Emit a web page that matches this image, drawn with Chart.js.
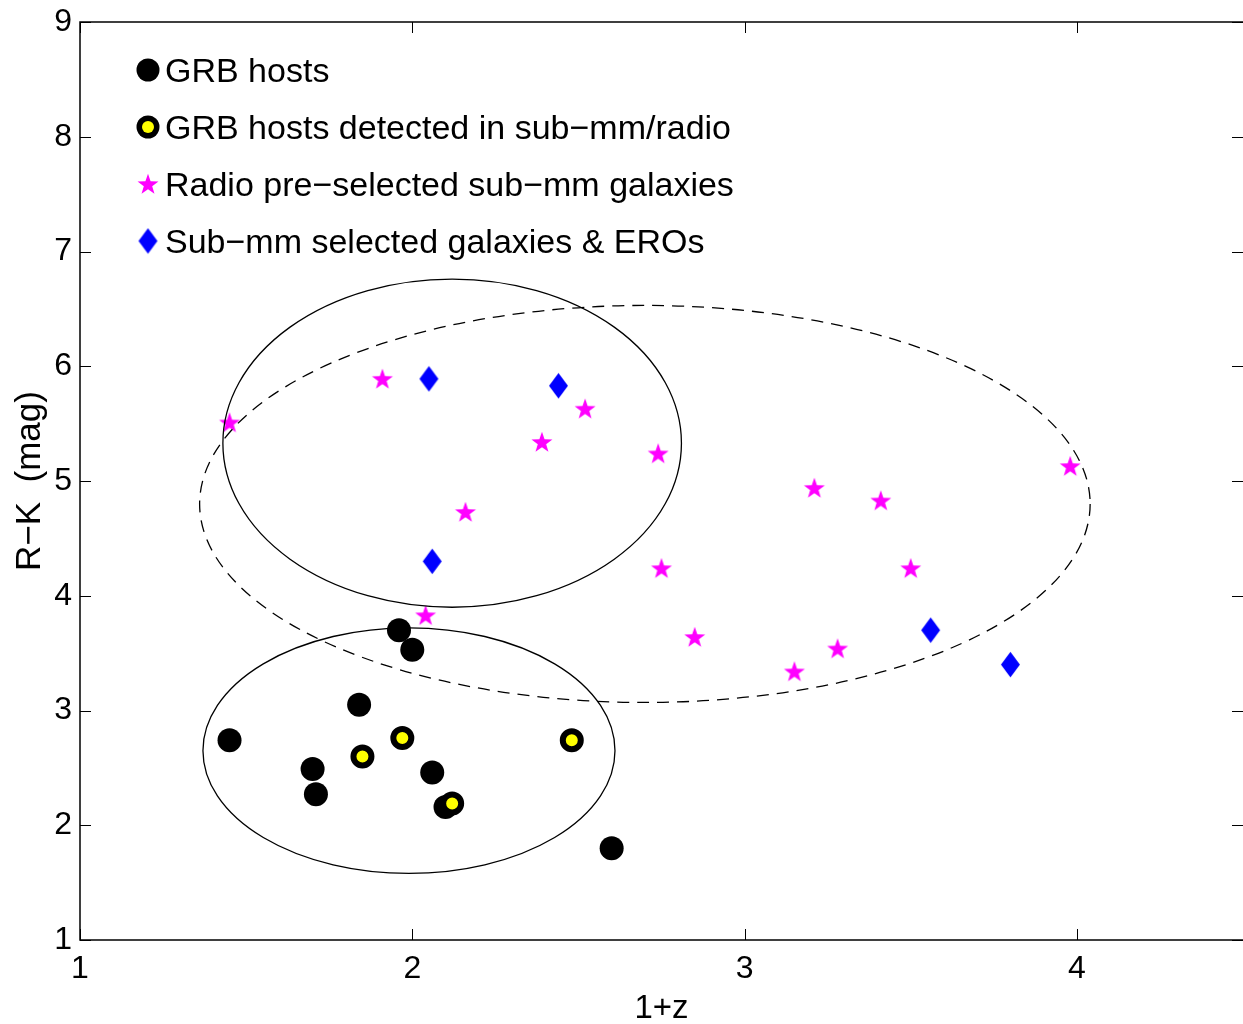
<!DOCTYPE html>
<html><head><meta charset="utf-8">
<script src="https://cdn.jsdelivr.net/npm/chart.js@4/dist/chart.umd.min.js"></script>
<style>html,body{margin:0;padding:0;background:#fff;overflow:hidden}#wrap{width:1243px;height:1024px;position:relative}canvas{display:block}</style>
</head><body><div id="wrap"><canvas id="c" width="1243" height="1024"></canvas></div>
<script>
const seriesNames = ['GRB hosts', 'GRB hosts detected in sub\u2212mm/radio', 'Radio pre\u2212selected sub\u2212mm galaxies', 'Sub\u2212mm selected galaxies & EROs'];
const grbX = [1.45, 1.70, 1.71, 1.84, 1.96, 2.00, 2.06, 2.10, 2.60];
const grbY = [2.74, 2.49, 2.27, 3.05, 3.70, 3.53, 2.46, 2.16, 1.80];
const detX = [1.85, 1.97, 2.12, 2.48];
const detY = [2.60, 2.76, 2.19, 2.74];
const radioX = [1.45, 1.91, 2.04, 2.16, 2.39, 2.52, 2.74, 2.75, 2.85, 3.15, 3.21, 3.28, 3.41, 3.50, 3.98];
const radioY = [5.51, 5.89, 3.83, 4.73, 5.34, 5.63, 5.24, 4.24, 3.64, 3.34, 4.94, 3.54, 4.83, 4.24, 5.13];
const smgX = [2.05, 2.06, 2.44, 3.56, 3.80];
const smgY = [5.89, 4.30, 5.83, 3.70, 3.40];
const xTicks = [1, 2, 3, 4];
const yTicks = [1, 2, 3, 4, 5, 6, 7, 8, 9];
const xTitle = '1+z';
const yTitle = 'R\u2212K  (mag)';
// ellipses: centre and semi-axes in data units
const ellCx = [2.12, 1.99, 2.70];
const ellCy = [5.33, 2.65, 4.80];
const ellRx = [0.69, 0.62, 1.34];
const ellRy = [1.43, 1.07, 1.73];
const ellDashed = [false, false, true];

const FONT = '"Liberation Sans", Arial, Helvetica, sans-serif';
const pts = (xs, ys) => xs.map((x, i) => ({x: x, y: ys[i]}));

function starPath(ctx, cx, cy, R, r) {
  ctx.beginPath();
  for (let i = 0; i < 10; i++) {
    const rad = i % 2 === 0 ? R : r;
    const a = -Math.PI / 2 + i * Math.PI / 5;
    const px = cx + rad * Math.cos(a), py = cy + rad * Math.sin(a);
    if (i === 0) ctx.moveTo(px, py); else ctx.lineTo(px, py);
  }
  ctx.closePath();
}
function diamondPath(ctx, cx, cy, w, h) {
  ctx.beginPath();
  ctx.moveTo(cx, cy - h / 2);
  ctx.lineTo(cx + w / 2, cy);
  ctx.lineTo(cx, cy + h / 2);
  ctx.lineTo(cx - w / 2, cy);
  ctx.closePath();
}
function makeStar() {
  const c = document.createElement('canvas'); c.width = 24; c.height = 24;
  const g = c.getContext('2d'); g.fillStyle = '#ff00ff';
  starPath(g, 12, 12.8, 11, 4.4); g.fill();
  return c;
}
function makeDiamond() {
  const c = document.createElement('canvas'); c.width = 21; c.height = 27;
  const g = c.getContext('2d'); g.fillStyle = '#0000ff';
  diamondPath(g, 10.5, 13.5, 19, 25.5); g.fill();
  return c;
}
const starImg = makeStar();
const diamondImg = makeDiamond();

const framePlugin = {
  id: 'frame',
  beforeDatasetsDraw(chart) {
    const {ctx, chartArea: a} = chart;
    const xs = chart.scales.x, ys = chart.scales.y;
    ctx.save();
    ctx.strokeStyle = '#000';
    ctx.lineWidth = 1.5;
    ctx.strokeRect(a.left, a.top, a.right - a.left + 2, a.bottom - a.top);
    ctx.lineWidth = 1;
    const L = 11;
    ctx.beginPath();
    xTicks.forEach(v => {
      const px = Math.round(xs.getPixelForValue(v)) + 0.5;
      ctx.moveTo(px, a.bottom); ctx.lineTo(px, a.bottom - L);
      ctx.moveTo(px, a.top); ctx.lineTo(px, a.top + L);
    });
    yTicks.forEach(v => {
      const py = Math.round(ys.getPixelForValue(v)) + 0.5;
      ctx.moveTo(a.left, py); ctx.lineTo(a.left + L, py);
      ctx.moveTo(a.right, py); ctx.lineTo(a.right - L, py);
    });
    ctx.stroke();
    ctx.restore();
  },
  afterDatasetsDraw(chart) {
    const {ctx, chartArea: a} = chart;
    const xs = chart.scales.x, ys = chart.scales.y;
    ctx.save();
    ctx.beginPath(); ctx.rect(a.left, a.top, a.right - a.left, a.bottom - a.top); ctx.clip();
    ctx.strokeStyle = '#000';
    ctx.lineWidth = 1.3;
    for (let i = 0; i < ellCx.length; i++) {
      const cx = xs.getPixelForValue(ellCx[i]);
      const cy = ys.getPixelForValue(ellCy[i]);
      const rx = Math.abs(xs.getPixelForValue(ellCx[i] + ellRx[i]) - cx);
      const ry = Math.abs(ys.getPixelForValue(ellCy[i] + ellRy[i]) - cy);
      ctx.setLineDash(ellDashed[i] ? [12, 8] : []);
      ctx.beginPath();
      ctx.ellipse(cx, cy, rx, ry, 0, 0, Math.PI * 2);
      ctx.stroke();
    }
    ctx.restore();
    // legend inside the axes
    ctx.save();
    const mx = 148, tx = 165, y0 = 70, dy = 57;
    ctx.font = '34px ' + FONT;
    ctx.fillStyle = '#000';
    ctx.textBaseline = 'alphabetic';
    ctx.textAlign = 'left';
    seriesNames.forEach((name, i) => {
      const y = y0 + i * dy;
      if (i === 0) {
        ctx.fillStyle = '#000'; ctx.beginPath(); ctx.arc(mx, y, 11.5, 0, Math.PI * 2); ctx.fill();
      } else if (i === 1) {
        ctx.fillStyle = '#000'; ctx.beginPath(); ctx.arc(mx, y, 11.5, 0, Math.PI * 2); ctx.fill();
        ctx.fillStyle = '#ffff00'; ctx.beginPath(); ctx.arc(mx, y, 6, 0, Math.PI * 2); ctx.fill();
      } else if (i === 2) {
        ctx.drawImage(starImg, mx - 12, y - 12);
      } else {
        ctx.drawImage(diamondImg, mx - 10.5, y - 13.5);
      }
      ctx.fillStyle = '#000';
      ctx.fillText(name, tx, y + 12);
    });
    ctx.restore();
  }
};

new Chart(document.getElementById('c'), {
  type: 'scatter',
  data: {
    datasets: [
      {label: seriesNames[0], data: pts(grbX, grbY), order: 4, pointStyle: 'circle', pointRadius: 12, backgroundColor: '#000', borderColor: '#000', borderWidth: 0},
      {label: seriesNames[1], data: pts(detX, detY), order: 3, pointStyle: 'circle', pointRadius: 9, backgroundColor: '#ffff00', borderColor: '#000', borderWidth: 6},
      {label: seriesNames[2], data: pts(radioX, radioY), order: 2, pointStyle: starImg, pointRadius: 10, backgroundColor: '#ff00ff', borderWidth: 0},
      {label: seriesNames[3], data: pts(smgX, smgY), order: 1, pointStyle: diamondImg, pointRadius: 10, backgroundColor: '#0000ff', borderWidth: 0}
    ]
  },
  options: {
    responsive: false,
    animation: false,
    devicePixelRatio: 1,
    layout: {autoPadding: false, padding: {top: 22, left: 0, right: 0, bottom: 0}},
    plugins: {legend: {display: false}, tooltip: {enabled: false}},
    events: [],
    scales: {
      x: {
        type: 'linear', min: 1, max: 4.5,
        afterBuildTicks: s => { s.ticks = xTicks.map(v => ({value: v})); },
        afterFit: s => { s.height = 84; s.paddingLeft = 0; s.paddingRight = 0; },
        grid: {display: false, drawTicks: false},
        border: {display: false},
        ticks: {color: '#000', font: {family: FONT, size: 32}, padding: 10, maxRotation: 0, minRotation: 0, autoSkip: false},
        title: {display: true, text: xTitle, color: '#000', font: {family: FONT, size: 33}, padding: {top: 0, bottom: -5}}
      },
      y: {
        type: 'linear', min: 1, max: 9,
        afterBuildTicks: s => { s.ticks = yTicks.map(v => ({value: v})); },
        afterFit: s => { s.width = 80; s.paddingTop = 0; s.paddingBottom = 0; },
        grid: {display: false, drawTicks: false},
        border: {display: false},
        ticks: {color: '#000', font: {family: FONT, size: 32}, padding: 8, autoSkip: false},
        title: {display: true, text: yTitle, color: '#000', font: {family: FONT, size: 35}, padding: {top: 9, bottom: 0}}
      }
    }
  },
  plugins: [framePlugin]
});
</script>
</body></html>
